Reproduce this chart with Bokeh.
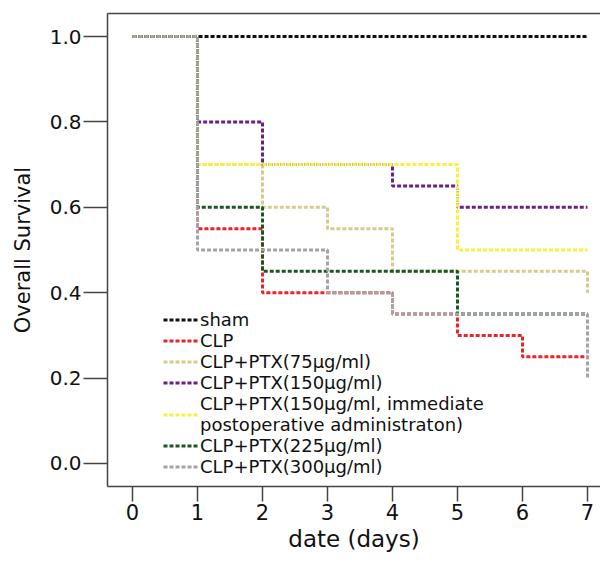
from bokeh.plotting import figure
from bokeh.models import Range1d, LinearAxis, FixedTicker, Legend, LegendItem, CustomJSTickFormatter
from bokeh.embed import file_html
from bokeh.resources import INLINE

# ---- data (Kaplan-Meier step values per day) ----
days = [0, 1, 2, 3, 4, 5, 6, 7]
sham = [1.0, 1.0, 1.0, 1.0, 1.0, 1.0, 1.0, 1.0]
clp = [1.0, 0.55, 0.40, 0.40, 0.35, 0.30, 0.25, 0.25]
ptx75 = [1.0, 0.70, 0.60, 0.55, 0.45, 0.45, 0.45, 0.40]
ptx150 = [1.0, 0.80, 0.70, 0.70, 0.65, 0.60, 0.60, 0.60]
ptx150_imm = [1.0, 0.70, 0.70, 0.70, 0.70, 0.50, 0.50, 0.50]
ptx225 = [1.0, 0.60, 0.45, 0.45, 0.45, 0.35, 0.35, 0.35]
ptx300 = [1.0, 0.50, 0.50, 0.40, 0.35, 0.35, 0.35, 0.20]

group_labels = [
    "sham",
    "CLP",
    "CLP+PTX(75µg/ml)",
    "CLP+PTX(150µg/ml)",
    "CLP+PTX(150µg/ml, immediate\npostoperative administraton)",
    "CLP+PTX(225µg/ml)",
    "CLP+PTX(300µg/ml)",
]
series = [sham, clp, ptx75, ptx150, ptx150_imm, ptx225, ptx300]
colors = ["#111111", "#e8262a", "#d2cd8a", "#6a1f86", "#f6f23c", "#1f5424", "#a3a3a3"]

x_ticks = [0, 1, 2, 3, 4, 5, 6, 7]
y_ticks = [0.0, 0.2, 0.4, 0.6, 0.8, 1.0]

FONT = "DejaVu Sans"

p = figure(width=600, height=557, output_backend="svg", toolbar_location=None,
           x_range=Range1d(-0.385, 7.2), y_range=Range1d(-0.054, 1.054),
           min_border_left=107, min_border_top=13, min_border_bottom=71, min_border_right=0)
p.outline_line_color = None
p.grid.visible = False
p.background_fill_color = "white"
p.border_fill_color = "white"

renderers = []
for vals, col in zip(series, colors):
    r = p.step(days, vals, mode="after", line_color=col, line_width=3, line_dash="4 2")
    renderers.append(r)

ax_col = "#444444"
xa = p.xaxis[0]
xa.ticker = FixedTicker(ticks=x_ticks)
xa.axis_label = "date (days)"
xa.axis_label_text_font = FONT
xa.axis_label_text_font_size = "23px"
xa.axis_label_text_font_style = "normal"
xa.axis_label_text_color = "#111111"
xa.axis_label_standoff = 3
xa.major_label_text_font = FONT
xa.major_label_text_font_size = "21px"
xa.major_label_text_color = "#111111"
xa.major_label_standoff = 2
xa.major_tick_out = 15
xa.major_tick_in = 0
xa.minor_tick_line_color = None
xa.axis_line_color = ax_col
xa.axis_line_width = 1.5
xa.major_tick_line_color = ax_col
xa.major_tick_line_width = 1.5

ya = p.yaxis[0]
ya.ticker = FixedTicker(ticks=y_ticks)
ya.formatter = CustomJSTickFormatter(code="return tick.toFixed(1);")
ya.axis_label = "Overall Survival"
ya.axis_label_text_font = FONT
ya.axis_label_text_font_size = "21px"
ya.axis_label_text_font_style = "normal"
ya.axis_label_text_color = "#111111"
ya.axis_label_standoff = 12
ya.major_label_text_font = FONT
ya.major_label_text_font_size = "20px"
ya.major_label_text_color = "#111111"
ya.major_label_standoff = 2
ya.major_tick_out = 24
ya.major_tick_in = 0
ya.minor_tick_line_color = None
ya.axis_line_color = ax_col
ya.axis_line_width = 1.5
ya.major_tick_line_color = ax_col
ya.major_tick_line_width = 1.5

top = LinearAxis(ticker=FixedTicker(ticks=[]), major_label_text_font_size="0px",
                 major_tick_out=0, major_tick_in=0, minor_tick_out=0, minor_tick_in=0,
                 major_label_standoff=0, axis_line_color=ax_col, axis_line_width=1.5)
p.add_layout(top, "above")

legend = Legend(items=[LegendItem(label=lab, renderers=[r]) for lab, r in zip(group_labels, renderers)],
                location=(56, 9), padding=0, margin=0, spacing=0,
                border_line_color=None, background_fill_alpha=0,
                glyph_width=35, glyph_height=21, label_height=21, label_standoff=2,
                label_text_font=FONT, label_text_font_size="18px", label_text_color="#111111",
                label_text_line_height=1.0)
p.add_layout(legend)

open("out.html", "w").write(file_html(p, INLINE))
